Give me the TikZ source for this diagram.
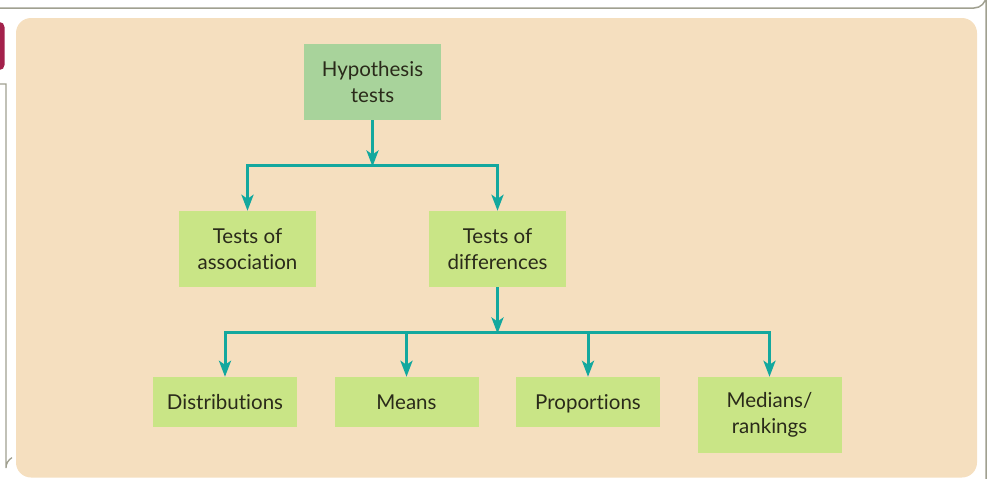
\documentclass[tikz,border=0pt]{standalone}
\usepackage{fontspec}
\setmainfont{Lato}[Ligatures=NoCommon]
\usetikzlibrary{arrows.meta}
\definecolor{beige}{HTML}{F5DFBF}
\definecolor{hypgreen}{HTML}{A8D39B}
\definecolor{boxgreen}{HTML}{C9E586}
\definecolor{teal}{HTML}{13A89E}
\definecolor{framegray}{HTML}{A0A090}
\definecolor{maroon}{HTML}{A3214B}
\definecolor{txt}{HTML}{2A2A1A}
\tikzset{
  box/.style={fill=boxgreen, draw=none, text=txt, align=center, inner sep=0pt,
    font=\fontsize{20.5}{26}\selectfont},
  onebox/.style={box, minimum width=144pt, minimum height=50pt, text height=14.5pt, text depth=0pt},
  conn/.style={draw=teal, line width=3pt, -{Stealth[length=16pt,width=12pt,inset=4pt]}, line join=miter},
}
\begin{document}
\begin{tikzpicture}[x=1pt,y=-1pt]
\useasboundingbox (0,0) rectangle (988,479);
% frame
\draw[framegray, line width=1.5pt] (0,8) -- (974,8) arc[start angle=90,end angle=0,radius=12] -- (986,479);
\draw[framegray, line width=1.3pt] (0,84) -- (6,84) -- (6,468) arc[start angle=180,end angle=240,radius=12];
\fill[maroon, rounded corners=5pt] (-6,22) rectangle (4.5,70);
% background
\fill[beige, rounded corners=15pt] (16,18) rectangle (977,477.5);
% nodes
\node[box, fill=hypgreen, minimum width=137pt, minimum height=76pt] (hyp) at (372.5,82) {Hypothesis\\tests};
\node[box, minimum width=137pt, minimum height=76pt] (assoc) at (247.5,249) {Tests of\\association};
\node[box, minimum width=137pt, minimum height=76pt] (diff) at (497.5,249) {Tests of\\differences};
\node[onebox] (dist) at (225,402) {Distributions};
\node[onebox] (means) at (406.5,402) {Means};
\node[onebox] (props) at (588,402) {Proportions};
\node[box, minimum width=144pt, minimum height=76pt] (med) at (769.5,415) {Medians/\\rankings};
% junctions
\coordinate (j1) at (372.5,165);
\coordinate (j2) at (497.5,332);
% connectors
\draw[conn] (hyp.south) -- ([yshift=-1.5pt]j1);
\draw[conn] (j1) -| (assoc.north);
\draw[conn] (j1) -| (diff.north);
\draw[conn] (diff.south) -- ([yshift=-1.5pt]j2);
\draw[conn] (j2) -| (dist.north);
\draw[conn] (j2) -| (means.north);
\draw[conn] (j2) -| (props.north);
\draw[conn] (j2) -| (med.north);
\end{tikzpicture}
\end{document}
